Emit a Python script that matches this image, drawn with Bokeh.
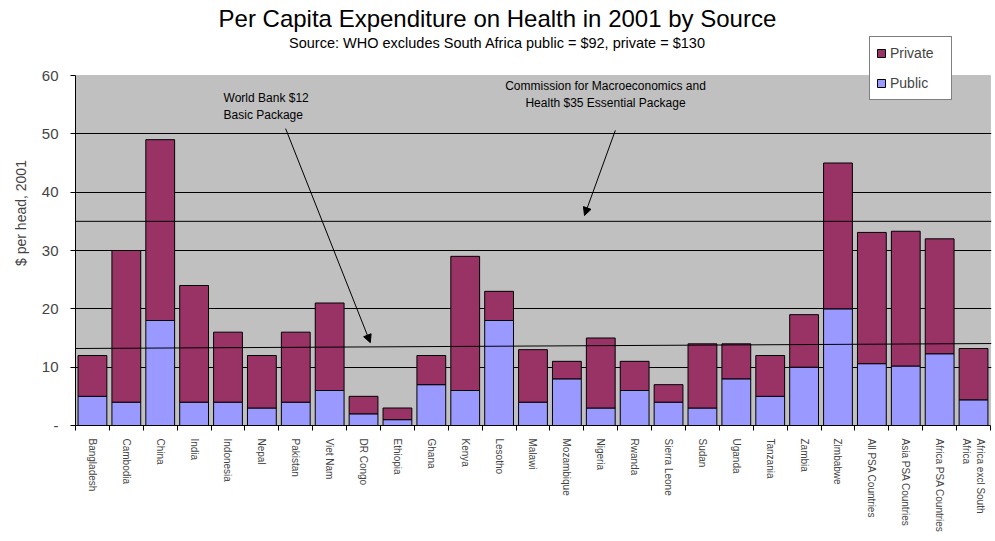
import math
from bokeh.plotting import figure
from bokeh.models import (ColumnDataSource, FixedTicker, Label, Arrow, NormalHead,
                          Legend, LegendItem, Range1d, BoxAnnotation)
from bokeh.embed import file_html
from bokeh.resources import INLINE

countries = ["Bangladesh", "Cambodia", "China", "India", "Indonesia", "Nepal", "Pakistan",
             "Viet Nam", "DR Congo", "Ethiopia", "Ghana", "Kenya", "Lesotho", "Malawi",
             "Mozambique", "Nigeria", "Rwanda", "Sierra Leone", "Sudan", "Uganda",
             "Tanzania", "Zambia", "Zimbabwe", "All PSA Countries", "Asia PSA Countries",
             "Africa PSA Countries", "Africa excl South\nAfrica"]
public = [5, 4, 18, 4, 4, 3, 4, 6, 2, 1, 7, 6, 18, 4, 8, 3, 6, 4, 3, 8, 5, 10, 20,
          10.6, 10.2, 12.3, 4.4]
private = [7, 26, 31, 20, 12, 9, 12, 15, 3, 2, 5, 23, 5, 9, 3, 12, 5, 3, 11, 6, 7, 9, 25,
           22.5, 23.1, 19.7, 8.8]
y_ticks = [0, 10, 20, 30, 40, 50, 60]
y_tick_labels = ["-", "10", "20", "30", "40", "50", "60"]
y_max = 60

title = "Per Capita Expenditure on Health in 2001 by Source"
subtitle = "Source: WHO excludes South Africa public = $92, private = $130"
wb_note = "World Bank $12\nBasic Package"
cme_note = "Commission for Macroeconomics and\nHealth $35 Essential Package"
wb_line = (13.2, 14.05)
cme_level = 35

FONT = "Liberation Sans"
PRIVATE_C = "#993366"
PUBLIC_C = "#9999FF"
AREA_C = "#C0C0C0"

n = len(countries)
centers = [i + 0.5 for i in range(n)]
tops = [a + b for a, b in zip(public, private)]
src = ColumnDataSource(dict(x=centers, pub=public, tot=tops))

# frame spans the whole height above the x axis so titles/legend are not clipped
p = figure(width=995, height=541, output_backend="svg", toolbar_location=None,
           x_range=Range1d(0, n + 0.03), y_range=Range1d(0, 72.86),
           min_border_left=75, min_border_right=4, min_border_top=0, min_border_bottom=116)
p.background_fill_color = "white"
p.border_fill_color = "white"
p.outline_line_color = None

# gray plot area
p.add_layout(BoxAnnotation(left=0, right=n, bottom=0, top=y_max, fill_color=AREA_C,
                           fill_alpha=1, line_color="#808080", line_width=1, level="image"))

r_pub = p.vbar(x="x", width=0.85, bottom=0, top="pub", source=src,
               fill_color=PUBLIC_C, line_color="black", line_width=1)
r_priv = p.vbar(x="x", width=0.85, bottom="pub", top="tot", source=src,
                fill_color=PRIVATE_C, line_color="black", line_width=1)

# grid
p.xgrid.visible = False
p.ygrid.ticker = FixedTicker(ticks=y_ticks[1:-1])
p.ygrid.grid_line_color = "black"
p.ygrid.grid_line_width = 1

# y axis
p.yaxis.ticker = FixedTicker(ticks=y_ticks)
p.yaxis.bounds = (0, y_max)
p.yaxis.major_label_overrides = {t: l for t, l in zip(y_ticks, y_tick_labels)}
p.yaxis.axis_label = "$ per head, 2001"
p.yaxis.axis_label_text_font = FONT
p.yaxis.axis_label_text_font_style = "normal"
p.yaxis.axis_label_text_font_size = "14px"
p.yaxis.axis_label_standoff = 10
p.yaxis.major_label_text_font = FONT
p.yaxis.major_label_text_font_size = "15px"
p.yaxis.major_label_standoff = 12
p.yaxis.major_tick_out = 5
p.yaxis.major_tick_in = 0
p.yaxis.minor_tick_out = 0
p.yaxis.minor_tick_in = 0
p.yaxis.axis_line_color = "black"
p.yaxis.major_tick_line_color = "black"

# x axis: labels at centers, ticks at boundaries
p.xaxis.ticker = FixedTicker(ticks=centers, minor_ticks=list(range(n + 1)))
p.xaxis.bounds = (0, n)
p.xaxis.major_label_overrides = {c: name for c, name in zip(centers, countries)}
p.xaxis.major_label_orientation = -math.pi / 2
p.xaxis.major_label_text_font = FONT
p.xaxis.major_label_text_font_size = "10px"
p.xaxis.major_label_standoff = 8
p.xaxis.major_tick_out = 0
p.xaxis.major_tick_in = 0
p.xaxis.minor_tick_out = 5
p.xaxis.minor_tick_in = 0
p.xaxis.minor_tick_line_color = "black"
p.xaxis.axis_line_color = "black"

# reference lines
p.segment(x0=[0], y0=[cme_level], x1=[n + 0.03], y1=[cme_level], line_color="black", line_width=1)
p.segment(x0=[0], y0=[wb_line[0]], x1=[n + 0.03], y1=[wb_line[1]], line_color="black", line_width=1)

# annotations
p.add_layout(Label(x=4.37, y=54.7, text=wb_note, text_font=FONT, text_font_size="12px",
                   text_align="left", text_baseline="middle", text_color="black"))
p.add_layout(Arrow(x_start=6.2, y_start=50.9, x_end=8.7, y_end=14.2, line_color="black",
                   line_width=1, end=NormalHead(size=8, fill_color="black", line_color="black")))
p.add_layout(Label(x=15.64, y=56.8, text=cme_note, text_font=FONT, text_font_size="12px",
                   text_align="center", text_baseline="middle", text_color="black"))
p.add_layout(Arrow(x_start=15.93, y_start=50.6, x_end=15.02, y_end=36.0, line_color="black",
                   line_width=1, end=NormalHead(size=8, fill_color="black", line_color="black")))

# titles
p.add_layout(Label(x=12.45, y=69.8, text=title, text_font=FONT, text_font_size="24px",
                   text_align="center", text_baseline="middle", text_color="black"))
p.add_layout(Label(x=12.45, y=65.6, text=subtitle, text_font=FONT, text_font_size="14.5px",
                   text_align="center", text_baseline="middle", text_color="black"))

# legend
legend = Legend(items=[LegendItem(label="Private", renderers=[r_priv]),
                       LegendItem(label="Public", renderers=[r_pub])],
                location=(794, 325))
legend.label_text_font = FONT
legend.label_text_font_size = "14px"
legend.glyph_width = 10
legend.glyph_height = 10
legend.label_height = 20
legend.label_width = 55
legend.label_standoff = 4
legend.spacing = 10
legend.padding = 6
legend.margin = 0
legend.border_line_color = "black"
legend.background_fill_color = "white"
legend.background_fill_alpha = 1
p.add_layout(legend)

open("out.html", "w").write(file_html(p, INLINE))
